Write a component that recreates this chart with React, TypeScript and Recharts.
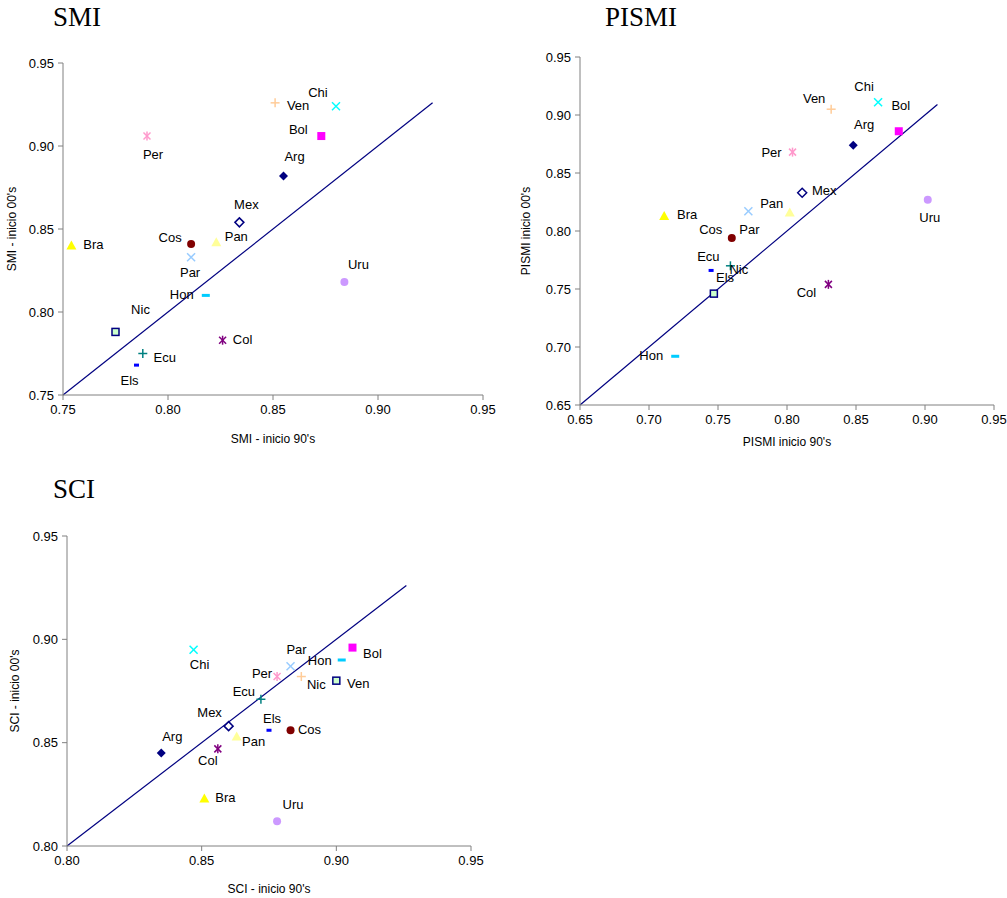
import React from "react";
import { ScatterChart, Scatter, XAxis, YAxis, ReferenceLine } from "recharts";

// country order follows the Excel series order (alphabetical)
const countries = ["Arg", "Bol", "Bra", "Chi", "Col", "Cos", "Ecu", "Els", "Hon", "Mex", "Nic", "Pan", "Par", "Per", "Uru", "Ven"];

const smi90 = [0.855, 0.873, 0.754, 0.880, 0.826, 0.811, 0.788, 0.785, 0.818, 0.834, 0.775, 0.823, 0.811, 0.790, 0.884, 0.851];
const smi00 = [0.882, 0.906, 0.840, 0.924, 0.783, 0.841, 0.775, 0.768, 0.810, 0.854, 0.788, 0.842, 0.833, 0.906, 0.818, 0.926];

const pismi90 = [0.848, 0.881, 0.711, 0.866, 0.830, 0.760, 0.759, 0.745, 0.719, 0.811, 0.747, 0.802, 0.772, 0.804, 0.902, 0.832];
const pismi00 = [0.874, 0.886, 0.813, 0.911, 0.754, 0.794, 0.770, 0.766, 0.692, 0.833, 0.746, 0.816, 0.817, 0.868, 0.827, 0.905];

const sci90 = [0.835, 0.906, 0.851, 0.847, 0.856, 0.883, 0.872, 0.875, 0.902, 0.860, 0.900, 0.863, 0.883, 0.878, 0.878, 0.887];
const sci00 = [0.845, 0.896, 0.823, 0.895, 0.847, 0.856, 0.871, 0.856, 0.890, 0.858, 0.880, 0.853, 0.887, 0.882, 0.812, 0.882];

const smiTicks = [0.75, 0.8, 0.85, 0.9, 0.95];
const pismiTicks = [0.65, 0.7, 0.75, 0.8, 0.85, 0.9, 0.95];
const sciTicks = [0.8, 0.85, 0.9, 0.95];

// 45 degree reference line: start, end
const smiDiag = [0.75, 0.926];
const pismiDiag = [0.65, 0.909];
const sciDiag = [0.8, 0.926];

// label placement (px offset from the marker), hand placed like the original text boxes
const smiLabelPos: Record<string, [number, number]> = {
  Arg: [11, -19], Bol: [-23, -7], Bra: [22, -1], Chi: [-18, -14], Col: [20, -1], Cos: [-21, -6],
  Ecu: [22, 4], Els: [-7, 15], Hon: [-24, -1], Mex: [7, -18], Nic: [25, -22], Pan: [20, -6],
  Par: [-1, 15], Per: [6, 18], Uru: [14, -18], Ven: [23, 3],
};
const pismiLabelPos: Record<string, [number, number]> = {
  Arg: [11, -21], Bol: [2, -26], Bra: [23, -1], Chi: [-14, -16], Col: [-22, 8], Cos: [-21, -8],
  Ecu: [-22, -9], Els: [14, 7], Hon: [-24, -1], Mex: [22, -2], Nic: [25, -24], Pan: [-18, -9],
  Par: [1, 18], Per: [-21, 0], Uru: [2, 18], Ven: [-17, -11],
};
const sciLabelPos: Record<string, [number, number]> = {
  Arg: [11, -17], Bol: [20, 6], Bra: [21, -1], Chi: [6, 15], Col: [-10, 12], Cos: [19, -1],
  Ecu: [-17, -8], Els: [3, -12], Hon: [-22, 0], Mex: [-19, -14], Nic: [-20, 4], Pan: [17, 5],
  Par: [6, -17], Per: [-15, -3], Uru: [16, -17], Ven: [57, 7],
};

const SANS = "'Liberation Sans', Arial, sans-serif";
const SERIF = "'Liberation Serif', 'Times New Roman', serif";
const AXIS = "#808080";

function Marker({ c, cx, cy }: { c: string; cx: number; cy: number }) {
  const x = (h: number, color: string, asterisk?: boolean) => (
    <g stroke={color} strokeWidth={1.5}>
      <line x1={cx - h} y1={cy - h} x2={cx + h} y2={cy + h} />
      <line x1={cx - h} y1={cy + h} x2={cx + h} y2={cy - h} />
      {asterisk && <line x1={cx} y1={cy - h - 1} x2={cx} y2={cy + h + 1} />}
    </g>
  );
  const plus = (h: number, color: string) => (
    <g stroke={color} strokeWidth={1.5}>
      <line x1={cx - h} y1={cy} x2={cx + h} y2={cy} />
      <line x1={cx} y1={cy - h} x2={cx} y2={cy + h} />
    </g>
  );
  const tri = (color: string) => (
    <polygon points={`${cx},${cy - 5} ${cx + 5},${cy + 4} ${cx - 5},${cy + 4}`} fill={color} />
  );
  const dmd = (fill: string, stroke?: string) => (
    <polygon
      points={`${cx},${cy - 4.5} ${cx + 4.5},${cy} ${cx},${cy + 4.5} ${cx - 4.5},${cy}`}
      fill={fill}
      stroke={stroke}
      strokeWidth={stroke ? 1.5 : 0}
    />
  );
  switch (c) {
    case "Arg": return dmd("#000080");
    case "Bol": return <rect x={cx - 4} y={cy - 4} width={8} height={8} fill="#FF00FF" />;
    case "Bra": return tri("#FFFF00");
    case "Chi": return x(4, "#00FFFF");
    case "Col": return x(3.5, "#800080", true);
    case "Cos": return <circle cx={cx} cy={cy} r={4} fill="#800000" />;
    case "Ecu": return plus(4.5, "#008080");
    case "Els": return <rect x={cx - 2.5} y={cy - 1.5} width={5} height={3} fill="#0000FF" />;
    case "Hon": return <rect x={cx - 4} y={cy - 1.5} width={8} height={3} fill="#00CCFF" />;
    case "Mex": return dmd("#FFFFFF", "#000080");
    case "Nic": return <rect x={cx - 3.5} y={cy - 3.5} width={7} height={7} fill="#CCFFCC" stroke="#000080" strokeWidth={1.5} />;
    case "Pan": return tri("#FFFF99");
    case "Par": return x(4, "#99CCFF");
    case "Per": return x(3.5, "#FF99CC", true);
    case "Uru": return <circle cx={cx} cy={cy} r={4} fill="#CC99FF" />;
    case "Ven": return plus(4.5, "#FFCC99");
    default: return null;
  }
}

type PanelProps = {
  title: string;
  xTitle: string;
  yTitle: string;
  xs: number[];
  ys: number[];
  ticks: number[];
  diag: number[];
  labelPos: Record<string, [number, number]>;
  left: number;
  top: number;
  width: number;
  height: number;
  margin: { top: number; right: number; bottom: number; left: number };
  titleX: number;
  titleY: number;
  yTitleX: number;
  xTitleY: number;
};

function Panel(p: PanelProps) {
  const data = countries.map((c, i) => ({ c, x: p.xs[i], y: p.ys[i] }));
  const domain: [number, number] = [p.ticks[0], p.ticks[p.ticks.length - 1]];
  const plotLeft = p.margin.left + 50;
  const plotRight = p.width - p.margin.right;
  const plotTop = p.margin.top;
  const plotBottom = p.height - p.margin.bottom - 30;
  const tickStyle = { fill: "#000", fontSize: 13, fontFamily: SANS };
  const shape = (props: any) => {
    const c = props.payload.c;
    const [dx, dy] = p.labelPos[c];
    return (
      <g>
        <Marker c={c} cx={props.cx} cy={props.cy} />
        <text
          x={props.cx + dx}
          y={props.cy + dy}
          textAnchor="middle"
          dominantBaseline="central"
          fontSize={13}
          fontFamily={SANS}
          fill="#000"
        >
          {c}
        </text>
      </g>
    );
  };
  return (
    <div style={{ position: "absolute", left: p.left, top: p.top, width: p.width, height: p.height }}>
      <div style={{ position: "absolute", left: p.titleX, top: p.titleY, fontFamily: SERIF, fontSize: 27, lineHeight: "30px", color: "#000" }}>
        {p.title}
      </div>
      <div
        style={{
          position: "absolute",
          left: p.yTitleX,
          top: (plotTop + plotBottom) / 2,
          transform: "translate(-50%, -50%) rotate(-90deg)",
          whiteSpace: "nowrap",
          fontFamily: SANS,
          fontSize: 12,
          color: "#000",
        }}
      >
        {p.yTitle}
      </div>
      <div
        style={{
          position: "absolute",
          left: (plotLeft + plotRight) / 2,
          top: p.xTitleY,
          transform: "translate(-50%, -50%)",
          whiteSpace: "nowrap",
          fontFamily: SANS,
          fontSize: 12,
          color: "#000",
        }}
      >
        {p.xTitle}
      </div>
      <div style={{ position: "absolute", left: 0, top: 0 }}>
        <ScatterChart width={p.width} height={p.height} margin={p.margin}>
          <XAxis
            type="number"
            dataKey="x"
            domain={domain}
            ticks={p.ticks}
            allowDataOverflow
            tickFormatter={(v: number) => v.toFixed(2)}
            height={30}
            stroke={AXIS}
            tick={tickStyle}
            tickSize={5}
            tickMargin={5}
          />
          <YAxis
            type="number"
            dataKey="y"
            domain={domain}
            ticks={p.ticks}
            allowDataOverflow
            tickFormatter={(v: number) => v.toFixed(2)}
            width={50}
            stroke={AXIS}
            tick={tickStyle}
            tickSize={5}
            tickMargin={4}
          />
          <ReferenceLine
            segment={[{ x: p.diag[0], y: p.diag[0] }, { x: p.diag[1], y: p.diag[1] }]}
            stroke="#000080"
            strokeWidth={1.2}
          />
          <Scatter data={data} shape={shape} isAnimationActive={false} />
        </ScatterChart>
      </div>
    </div>
  );
}

export default function App() {
  return (
    <div style={{ position: "absolute", left: 0, top: 0, width: 1007, height: 898, background: "#fff" }}>
      <Panel
        title="SMI"
        xTitle="SMI - inicio 90's"
        yTitle="SMI - inicio 00's"
        xs={smi90}
        ys={smi00}
        ticks={smiTicks}
        diag={smiDiag}
        labelPos={smiLabelPos}
        left={0}
        top={0}
        width={500}
        height={430}
        margin={{ top: 63, right: 17, bottom: 5, left: 13 }}
        titleX={53}
        titleY={2}
        yTitleX={12}
        xTitleY={439}
      />
      <Panel
        title="PISMI"
        xTitle="PISMI inicio 90's"
        yTitle="PISMI  inicio 00's"
        xs={pismi90}
        ys={pismi00}
        ticks={pismiTicks}
        diag={pismiDiag}
        labelPos={pismiLabelPos}
        left={510}
        top={0}
        width={497}
        height={440}
        margin={{ top: 57, right: 13, bottom: 5, left: 20 }}
        titleX={95}
        titleY={2}
        yTitleX={16}
        xTitleY={442}
      />
      <Panel
        title="SCI"
        xTitle="SCI - inicio 90's"
        yTitle="SCI - inicio 00's"
        xs={sci90}
        ys={sci00}
        ticks={sciTicks}
        diag={sciDiag}
        labelPos={sciLabelPos}
        left={0}
        top={460}
        width={500}
        height={438}
        margin={{ top: 76, right: 29, bottom: 22, left: 17 }}
        titleX={53}
        titleY={14}
        yTitleX={15}
        xTitleY={429}
      />
    </div>
  );
}
